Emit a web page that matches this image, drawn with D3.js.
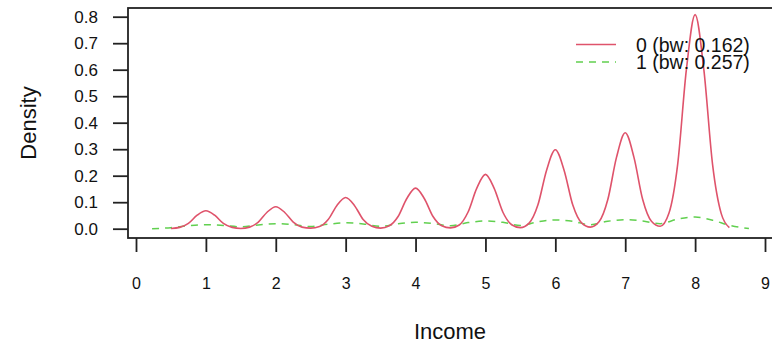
<!DOCTYPE html>
<html>
<head>
<meta charset="utf-8">
<script src="https://cdn.jsdelivr.net/npm/d3@7"></script>
<style>
  body { margin: 0; background: #fff; }
  text { font-family: "Liberation Sans", Arial, sans-serif; fill: #111; }
</style>
</head>
<body>
<div id="chart"></div>
<script>
// density of income, group 0 (bw 0.162)
const x0 = [0.5, 0.625, 0.75, 0.875, 1, 1.125, 1.25, 1.375, 1.5, 1.625, 1.75, 1.875, 2, 2.125, 2.25, 2.375,
  2.5, 2.625, 2.75, 2.875, 3, 3.125, 3.25, 3.375, 3.5, 3.625, 3.75, 3.875, 4, 4.125, 4.25, 4.375,
  4.5, 4.625, 4.75, 4.875, 5, 5.125, 5.25, 5.375, 5.5, 5.625, 5.75, 5.875, 6, 6.125, 6.25, 6.375,
  6.5, 6.625, 6.75, 6.875, 7, 7.125, 7.25, 7.375, 7.5, 7.625, 7.75, 7.875, 8, 8.125, 8.25, 8.375, 8.49];
const y0 = [0.001, 0.005, 0.020, 0.051, 0.068, 0.051, 0.020, 0.005, 0.001, 0.006, 0.025, 0.062, 0.083, 0.062, 0.025, 0.006,
  0.002, 0.008, 0.035, 0.088, 0.118, 0.088, 0.035, 0.009, 0.002, 0.011, 0.046, 0.114, 0.153, 0.114, 0.046, 0.011,
  0.003, 0.014, 0.062, 0.152, 0.205, 0.152, 0.062, 0.015, 0.004, 0.021, 0.089, 0.221, 0.298, 0.221, 0.089, 0.022,
  0.006, 0.026, 0.109, 0.269, 0.362, 0.269, 0.110, 0.028, 0.009, 0.058, 0.242, 0.600, 0.808, 0.600, 0.242, 0.056, 0.004];

// group 1 (bw 0.257)
const x1 = [0.23, 0.5, 0.75, 1, 1.25, 1.5, 1.75, 2, 2.25, 2.5, 2.75, 3, 3.25, 3.5, 3.75, 4, 4.25, 4.5,
  4.75, 5, 5.25, 5.5, 5.75, 6, 6.25, 6.5, 6.75, 7, 7.25, 7.5, 7.75, 8, 8.25, 8.5, 8.77];
const y1 = [0.000, 0.004, 0.011, 0.015, 0.012, 0.007, 0.014, 0.019, 0.015, 0.008, 0.017, 0.022, 0.018, 0.009, 0.019, 0.024, 0.020, 0.011,
  0.023, 0.029, 0.024, 0.012, 0.026, 0.033, 0.028, 0.015, 0.028, 0.034, 0.029, 0.019, 0.036, 0.044, 0.032, 0.012, 0.001];

const xTicks = [0, 1, 2, 3, 4, 5, 6, 7, 8, 9];
const yTicks = [0, 0.1, 0.2, 0.3, 0.4, 0.5, 0.6, 0.7, 0.8];
const legendLabels = ["0 (bw: 0.162)", "1 (bw: 0.257)"];

const width = 772, height = 345;
const box = { left: 128, top: 8, right: 773, bottom: 238 };
const red = "#DF536B", green = "#61D04F";

const svg = d3.select("#chart").append("svg")
  .attr("width", width)
  .attr("height", height);

const x = d3.scaleLinear().domain([0, 9]).range([136, 765]);
const y = d3.scaleLinear().domain([0, 0.8]).range([228.7, 16.7]);

const line = d3.line()
  .x(d => x(d[0]))
  .y(d => y(d[1]))
  .curve(d3.curveMonotoneX);

svg.append("path")
  .datum(d3.zip(x1, y1))
  .attr("d", line)
  .attr("fill", "none")
  .attr("stroke", green)
  .attr("stroke-width", 1.5)
  .attr("stroke-dasharray", "7,6");

svg.append("path")
  .datum(d3.zip(x0, y0))
  .attr("d", line)
  .attr("fill", "none")
  .attr("stroke", red)
  .attr("stroke-width", 1.6);

// box (right side falls off the picture)
svg.append("rect")
  .attr("x", box.left)
  .attr("y", box.top)
  .attr("width", box.right - box.left)
  .attr("height", box.bottom - box.top)
  .attr("fill", "none")
  .attr("stroke", "#222")
  .attr("stroke-width", 1.8);

function xAxis(g) {
  g.attr("transform", `translate(0,${box.bottom})`)
    .call(d3.axisBottom(x).tickValues(xTicks).tickSize(14).tickPadding(26).tickFormat(d3.format("d")))
    .call(g => g.select(".domain").remove())
    .call(g => g.selectAll("line").attr("stroke", "#222").attr("stroke-width", 1.8))
    .call(g => g.selectAll("text").attr("font-size", "16px").attr("fill", "#111"));
}

function yAxis(g) {
  g.attr("transform", `translate(${box.left},0)`)
    .call(d3.axisLeft(y).tickValues(yTicks).tickSize(15).tickPadding(15).tickFormat(d3.format(".1f")))
    .call(g => g.select(".domain").remove())
    .call(g => g.selectAll("line").attr("stroke", "#222").attr("stroke-width", 1.8))
    .call(g => g.selectAll("text").attr("font-size", "17px").attr("fill", "#111"));
}

svg.append("g").call(xAxis).attr("font-family", null);
svg.append("g").call(yAxis).attr("font-family", null);

svg.append("text")
  .attr("x", 450)
  .attr("y", 339)
  .attr("text-anchor", "middle")
  .attr("font-size", "22px")
  .text("Income");

svg.append("text")
  .attr("transform", "translate(36,123) rotate(-90)")
  .attr("text-anchor", "middle")
  .attr("font-size", "22px")
  .text("Density");

// legend
const legend = svg.append("g");
const rows = [{ label: legendLabels[0], color: red, dash: null, y: 44.5 },
              { label: legendLabels[1], color: green, dash: "7,6", y: 62 }];
rows.forEach(r => {
  legend.append("line")
    .attr("x1", 576).attr("x2", 616)
    .attr("y1", r.y).attr("y2", r.y)
    .attr("stroke", r.color)
    .attr("stroke-width", 1.5)
    .attr("stroke-dasharray", r.dash);
  legend.append("text")
    .attr("x", 636)
    .attr("y", r.y)
    .attr("dy", "0.36em")
    .attr("font-size", "19.5px")
    .text(r.label);
});
</script>
</body>
</html>
